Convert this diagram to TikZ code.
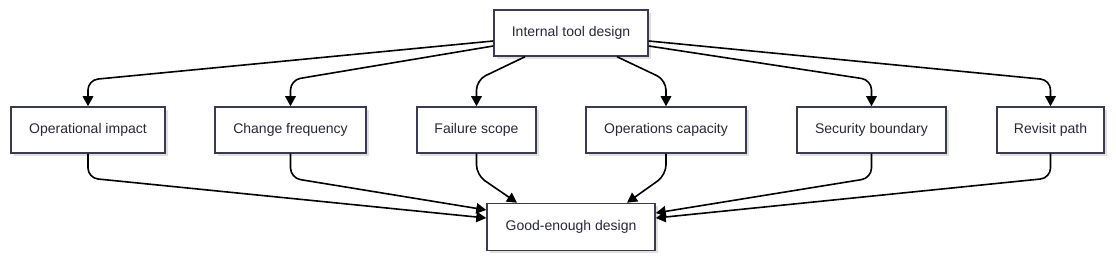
\documentclass[tikz,border=0pt]{standalone}
\usepackage{fontspec}
\setmainfont{Liberation Sans}
\usetikzlibrary{arrows.meta,shadows}
\definecolor{boxline}{RGB}{58,58,82}
\definecolor{boxtext}{RGB}{40,40,60}
\begin{document}
\begin{tikzpicture}[x=1pt,y=-1pt,
  box/.style={draw=boxline,line width=1.5pt,fill=white,minimum height=46pt,inner sep=0pt,
    font=\fontsize{14pt}{16pt}\selectfont,text=boxtext,
    drop shadow={shadow xshift=3pt,shadow yshift=-3pt,opacity=0.12,fill=black}},
  link/.style={draw=black,line width=1.6pt,rounded corners=10pt,-{Triangle[length=10pt,width=10.5pt]}}]
\useasboundingbox (0,0) rectangle (1116,261);
\node[box,minimum width=154pt] (top) at (571,33) {Internal tool design};
\node[box,minimum width=154pt] (op) at (88,130) {Operational impact};
\node[box,minimum width=151pt] (cf) at (290.5,130) {Change frequency};
\node[box,minimum width=119pt] (fs) at (476.5,130) {Failure scope};
\node[box,minimum width=160pt] (oc) at (666,130) {Operations capacity};
\node[box,minimum width=149pt] (sb) at (871.5,130) {Security boundary};
\node[box,minimum width=107pt] (rp) at (1050.5,130) {Revisit path};
\node[box,minimum width=168pt,minimum height=47pt] (bot) at (571,227) {Good-enough design};
% top -> middle
\draw[link] ([yshift=-8pt]top.west) -- (88,80) -- (op.north);
\draw[link] ([yshift=-13pt]top.west) -- (290.5,80) -- (cf.north);
\draw[link] ([xshift=-46pt]top.south) -- (476.5,80) -- (fs.north);
\draw[link] ([xshift=46pt]top.south) -- (666,80) -- (oc.north);
\draw[link] ([yshift=-13pt]top.east) -- (871.5,80) -- (sb.north);
\draw[link] ([yshift=-8pt]top.east) -- (1050.5,80) -- (rp.north);
% middle -> bottom
\draw[link] (op.south) -- (88,178) -- ([yshift=9pt]bot.west);
\draw[link] (cf.south) -- (290.5,178) -- ([yshift=17pt]bot.west);
\draw[link] (fs.south) -- (476.5,175) -- ([xshift=-54pt]bot.north);
\draw[link] (oc.south) -- (666,175) -- ([xshift=56pt]bot.north);
\draw[link] (sb.south) -- (871.5,178) -- ([yshift=14pt]bot.east);
\draw[link] (rp.south) -- (1050.5,178) -- ([yshift=9pt]bot.east);
\end{tikzpicture}
\end{document}
